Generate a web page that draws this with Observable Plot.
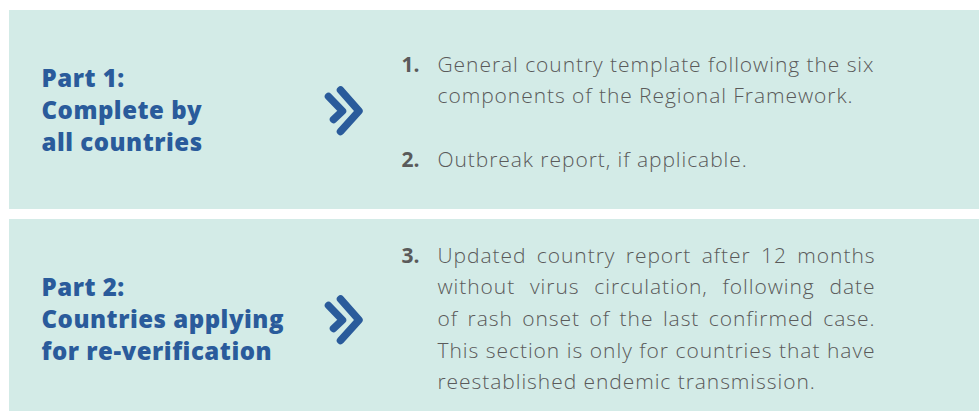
<!DOCTYPE html>
<html><head><meta charset="utf-8">
<script src="https://cdn.jsdelivr.net/npm/d3@7"></script>
<script src="https://cdn.jsdelivr.net/npm/@observablehq/plot@0.6"></script>
<style>html,body{margin:0;padding:0;background:#fff;overflow:hidden} svg{display:block}</style>
</head><body><div id="chart"></div>
<script>
// ---- content ----
const partTitles = ["Part 1:", "Part 2:"];
const partSubtitles = [["Complete by", "all countries"], ["Countries applying", "for re-verification"]];
const itemNumbers = ["1.", "2.", "3."];
const itemLines = [
  ["General country template following the six", "components of the Regional Framework."],
  ["Outbreak report, if applicable."],
  ["Updated country report after 12 months", "without virus circulation, following date", "of rash onset of the last confirmed case.", "This section is only for countries that have", "reestablished endemic transmission."]
];
const itemPart = [0, 0, 1];
const itemJustified = [false, false, true];

// ---- layout (computed in code) ----
const W = 979, H = 411;
const BLUE = "#2a5b9b", GRAY = "#5a5a5a", PANEL = "#d3ebe7";
const panelTop = [10, 219], panelBottom = [209, 411], panelLeft = 9, panelRight = 979;
const itemStart = [62, 157, 44]; // baseline offset from panel top
const bodyStep = 31.7, labelStep = 32;
const labelX = 41, numX = 401, bodyX = 437, bodyRight = 874;

const ctx = document.createElement("canvas").getContext("2d");
function measure(txt, font) { ctx.font = font; return ctx.measureText(txt).width; }
const LABEL_FONT = "'Open Sans'", BODY_FONT = "'Open Sans'";
const labelFs = 24, bodyFs = 21;
const lf = `800 ${labelFs}px ${LABEL_FONT}`, bf = `300 ${bodyFs}px ${BODY_FONT}`;
const refLabel = "Countries applying";
const labelLs = (242 - measure(refLabel, lf)) / (refLabel.length - 1);
const bodyLs = (436 - measure(itemLines[0][0], bf)) / (itemLines[0][0].length - 1);

const panels = panelTop.map((t, i) => ({x1: panelLeft, x2: panelRight, y1: t, y2: panelBottom[i]}));

const labels = [];
partTitles.forEach((t, p) => {
  [t, ...partSubtitles[p]].forEach((s, j) => labels.push({text: s, x: labelX, y: panelTop[p] + 77.5 + j * labelStep - 0.36 * labelFs}));
});

const nums = [], bodies = [];
itemNumbers.forEach((n, i) => {
  const base = panelTop[itemPart[i]] + itemStart[i];
  nums.push({text: n, x: numX, y: base - 0.36 * bodyFs});
  itemLines[i].forEach((l, j) => {
    const last = j === itemLines[i].length - 1;
    let ws = 0;
    if (itemJustified[i] && !last) {
      const w = measure(l, bf) + bodyLs * (l.length - 1);
      const spaces = (l.match(/ /g) || []).length;
      ws = spaces ? (bodyRight - bodyX - w) / spaces : 0;
    }
    bodies.push({text: l, x: bodyX, y: base + j * bodyStep - 0.36 * bodyFs, ws});
  });
});

const chevrons = [];
panelTop.forEach((t, p) => {
  const cy = t + 100;
  const shapes = [
    [[340, -20.5], [358.5, 0.5], [340, 21]],
    [[328, -14], [342, 0.5], [333, 9]]
  ];
  shapes.forEach((s, k) => s.forEach(([x, dy]) => chevrons.push({x, y: cy + dy, id: `${p}-${k}`})));
});

const chart = Plot.plot({
  width: W, height: H,
  margin: 0,
  style: {background: "#fff"},
  x: {domain: [0, W], range: [0, W], axis: null},
  y: {domain: [0, H], range: [0, H], axis: null},
  marks: [
    Plot.rect(panels, {x1: "x1", x2: "x2", y1: "y1", y2: "y2", fill: PANEL}),
    Plot.line(chevrons, {x: "x", y: "y", z: "id", stroke: BLUE, strokeWidth: 7.5, strokeLinecap: "round", strokeLinejoin: "round", curve: "linear"}),
    Plot.text(labels, {x: "x", y: "y", text: "text", textAnchor: "start", lineAnchor: "middle", fill: BLUE, fontSize: labelFs, fontWeight: 800, fontFamily: LABEL_FONT}),
    Plot.text(nums, {x: "x", y: "y", text: "text", textAnchor: "start", lineAnchor: "middle", fill: GRAY, fontSize: bodyFs, fontWeight: 700, fontFamily: BODY_FONT}),
    Plot.text(bodies, {x: "x", y: "y", text: "text", textAnchor: "start", lineAnchor: "middle", fill: GRAY, fontSize: bodyFs, fontWeight: 300, fontFamily: BODY_FONT})
  ]
});
document.getElementById("chart").append(chart);

// letter spacing and justification (per-line word spacing)
chart.querySelectorAll("text").forEach(el => {
  const t = el.textContent;
  if (labels.some(d => d.text === t)) el.style.letterSpacing = labelLs + "px";
  const b = bodies.find(d => d.text === t);
  if (b) {
    el.style.letterSpacing = bodyLs + "px";
    if (b.ws) el.style.wordSpacing = b.ws + "px";
  }
});
</script>
</body></html>
